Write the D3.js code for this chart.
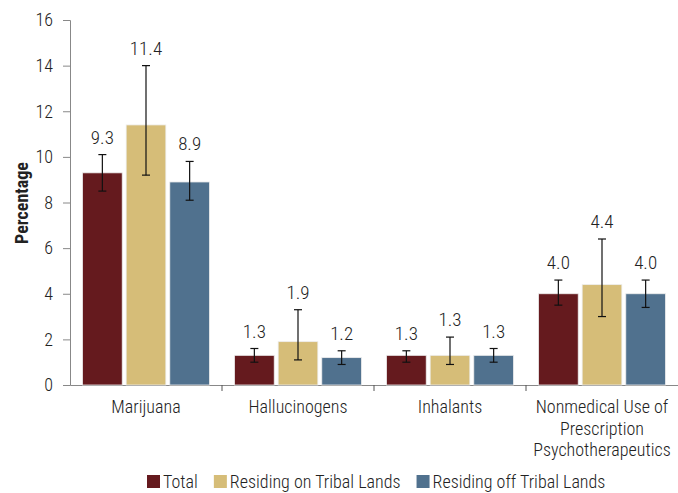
<!DOCTYPE html>
<html>
<head>
<meta charset="utf-8">
<script src="https://cdn.jsdelivr.net/npm/d3@7"></script>
<style>
  body { margin: 0; background: #fff; }
  text { font-family: "Roboto Condensed", "Liberation Sans Narrow", sans-serif; fill: #222; font-weight: 300; }
</style>
</head>
<body>
<svg id="chart" width="678" height="493"></svg>
<script>
const categories = ["Marijuana", "Hallucinogens", "Inhalants", "Nonmedical Use of Prescription Psychotherapeutics"]
const categoryLines = [["Marijuana"], ["Hallucinogens"], ["Inhalants"], ["Nonmedical Use of", "Prescription", "Psychotherapeutics"]]
const seriesNames = ["Total", "Residing on Tribal Lands", "Residing off Tribal Lands"]
const seriesColors = ["#651a1e", "#d6bd78", "#50718e"]

const totalValues = [9.3, 1.3, 1.3, 4.0]
const tribalValues = [11.4, 1.9, 1.3, 4.4]
const offTribalValues = [8.9, 1.2, 1.3, 4.0]

const totalLow = [8.5, 1.0, 1.0, 3.5]
const totalHigh = [10.1, 1.6, 1.5, 4.6]
const tribalLow = [9.2, 1.1, 0.9, 3.0]
const tribalHigh = [14.0, 3.3, 2.1, 6.4]
const offTribalLow = [8.1, 0.9, 1.0, 3.4]
const offTribalHigh = [9.8, 1.5, 1.6, 4.6]

const yTicks = [0, 2, 4, 6, 8, 10, 12, 14, 16]

const series = [
    {name: seriesNames[0], values: totalValues, low: totalLow, high: totalHigh},
    {name: seriesNames[1], values: tribalValues, low: tribalLow, high: tribalHigh},
    {name: seriesNames[2], values: offTribalValues, low: offTribalLow, high: offTribalHigh}
]

let rows = []
categories.forEach((c, i) => {
    series.forEach(s => rows.push({cat: c, id: s.name, value: s.values[i], low: s.low[i], high: s.high[i]}))
})

let svg = d3.select("#chart"),
    margin = {top: 20, right: 0, bottom: 108, left: 70},
    width = svg.attr("width") - margin.left - margin.right,
    height = svg.attr("height") - margin.top - margin.bottom,
    g = svg.append("g").attr("transform", "translate(" + margin.left + "," + margin.top + ")")

let x = d3.scaleBand().domain(categories).range([0, width]),
    x1 = d3.scaleBand().domain(seriesNames).range([12.5, x.bandwidth() - 12.5]).paddingInner(0.09),
    y = d3.scaleLinear().domain([0, 16]).range([height, 0]),
    z = d3.scaleOrdinal().domain(seriesNames).range(seriesColors)

// y axis
let yAxis = g.append("g")
    .call(d3.axisLeft(y).tickValues(yTicks).tickSize(7).tickPadding(10))
yAxis.select(".domain").attr("stroke", "#888")
yAxis.selectAll(".tick line").attr("stroke", "#888")
yAxis.selectAll(".tick text").style("font-size", "18px").attr("fill", "#222")

// x axis
let xAxis = g.append("g")
    .attr("transform", "translate(0," + height + ")")
    .call(d3.axisBottom(x).tickValues([]).tickSizeOuter(0))
xAxis.select(".domain").attr("stroke", "#888")

g.selectAll(".sep")
    .data(categories.slice(1))
    .enter().append("line")
    .attr("x1", d => x(d)).attr("x2", d => x(d))
    .attr("y1", height).attr("y2", height + 6)
    .attr("stroke", "#555")

// bars
g.selectAll(".bar")
    .data(rows)
    .enter().append("rect")
    .attr("x", d => x(d.cat) + x1(d.id))
    .attr("y", d => y(d.value))
    .attr("width", x1.bandwidth())
    .attr("height", d => height - y(d.value))
    .attr("fill", d => z(d.id))
    .attr("stroke", "#eee")
    .attr("stroke-width", 0.8)

// error bars
let err = g.selectAll(".err")
    .data(rows)
    .enter().append("g")
    .attr("transform", d => "translate(" + (x(d.cat) + x1(d.id) + x1.bandwidth() / 2) + ",0)")

err.append("line")
    .attr("y1", d => y(d.low)).attr("y2", d => y(d.high))
    .attr("stroke", "#111").attr("stroke-width", 1.2)
err.append("line")
    .attr("x1", -4).attr("x2", 4)
    .attr("y1", d => y(d.low)).attr("y2", d => y(d.low))
    .attr("stroke", "#111").attr("stroke-width", 1.2)
err.append("line")
    .attr("x1", -4).attr("x2", 4)
    .attr("y1", d => y(d.high)).attr("y2", d => y(d.high))
    .attr("stroke", "#111").attr("stroke-width", 1.2)

err.append("text")
    .attr("y", d => y(d.high) - 11)
    .attr("text-anchor", "middle")
    .style("font-size", "19px")
    .text(d => d.value.toFixed(1))

// category labels
let catLabel = g.selectAll(".cat")
    .data(categories)
    .enter().append("text")
    .attr("x", d => x(d) + x.bandwidth() / 2)
    .attr("y", height + 28)
    .attr("text-anchor", "middle")
    .style("font-size", "18px")

catLabel.selectAll("tspan")
    .data((d, i) => categoryLines[i])
    .enter().append("tspan")
    .attr("x", function () { return d3.select(this.parentNode).attr("x") })
    .attr("dy", (d, i) => i ? 21.5 : 0)
    .text(d => d)

// y label
svg.append("text")
    .attr("transform", "translate(28,203) rotate(-90)")
    .attr("text-anchor", "middle")
    .style("font-size", "18px")
    .style("font-weight", "bold")
    .attr("fill", "#000")
    .text("Percentage")

// legend, laid out one after another
let legend = svg.append("g").attr("transform", "translate(147,475)")
let lx = 0
seriesNames.forEach(name => {
    let item = legend.append("g").attr("transform", "translate(" + lx + ",0)")
    item.append("rect")
        .attr("width", 13).attr("height", 13)
        .attr("fill", z(name))
    let t = item.append("text")
        .attr("x", 16)
        .attr("y", 13)
        .style("font-size", "18px")
        .text(name)
    lx += 16 + t.node().getComputedTextLength() + 16
})
</script>
</body>
</html>
